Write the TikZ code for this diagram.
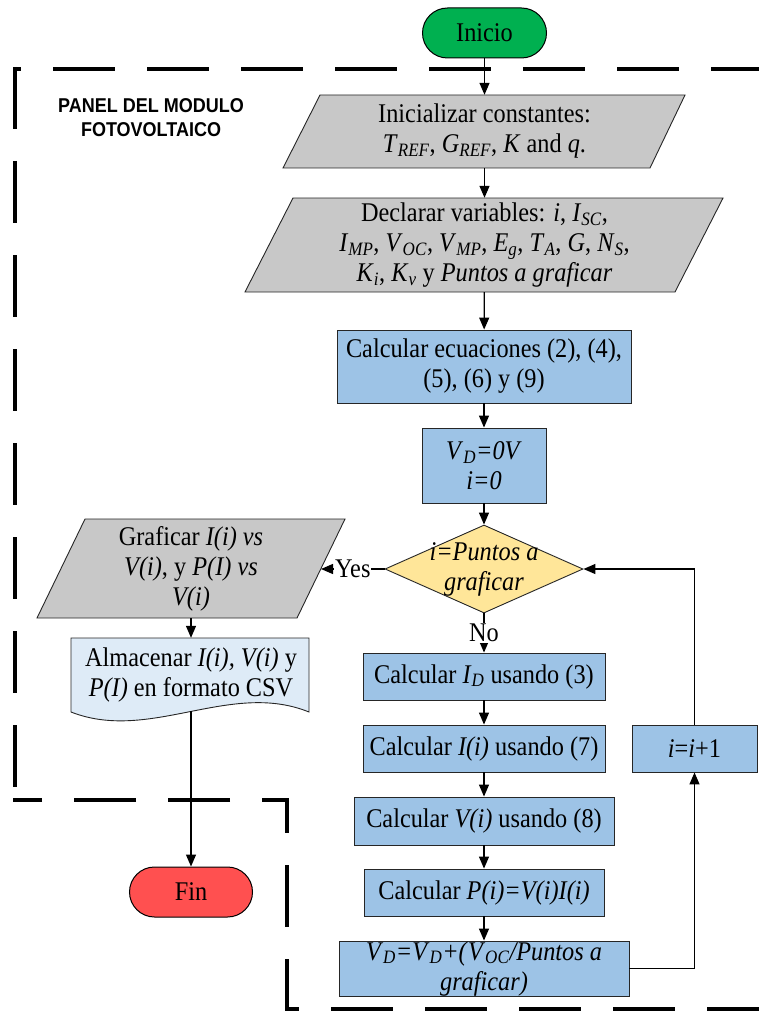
\documentclass[tikz,border=0pt]{standalone}
\usepackage{fontspec}
\setmainfont{Liberation Serif}[FakeStretch=0.9]
\newfontfamily\panelfont{Liberation Sans}[FakeStretch=0.9]
\usetikzlibrary{arrows.meta,shapes.geometric}
\definecolor{cgreen}{HTML}{00B050}
\definecolor{cred}{HTML}{FF5050}
\definecolor{cgray}{HTML}{C8C8C8}
\definecolor{cblue}{HTML}{9DC3E6}
\definecolor{clight}{HTML}{DEEBF7}
\definecolor{cyellow}{HTML}{FFE699}
\newcommand\vs[2]{\textit{#1}\textsubscript{\textit{#2}}}
\begin{document}
\begin{tikzpicture}[x=1pt,y=-1pt,
  every node/.style={font=\fontsize{27}{30}\selectfont},
  term/.style={draw=black, line width=1pt, rounded corners=25pt, minimum height=50pt, minimum width=124pt, inner sep=0pt},
  proc/.style={draw=black!85, line width=0.9pt, fill=cblue, align=center, inner sep=0pt},
  txt/.style={align=center, inner sep=0pt},
  shp/.style={draw=black!85, line width=0.9pt},
  arr/.style={line width=1.3pt, -{Triangle[length=12pt,width=10pt]}},
  lin/.style={line width=1.3pt},
  panel/.style={line width=4pt, dash pattern=on 62pt off 32pt}]
\useasboundingbox (0,0) rectangle (759,1011);

% panel border
\draw[panel, dash phase=54pt] (13,69) -- (759,69);
\draw[panel] (15,67) -- (15,800);
\draw[panel, dash phase=35pt] (289,800) -- (13,800);
\draw[panel, dash phase=27pt] (287,798) -- (287,1009) -- (759,1009);
\node[txt, font=\panelfont\bfseries\fontsize{20}{24}\selectfont] (lbl) at (151,118) {PANEL DEL MODULO\\FOTOVOLTAICO};

% terminals
\node[term, fill=cgreen] (ini) at (484.5,33) {Inicio};
\node[term, fill=cred, minimum width=123pt] (fin) at (191,892) {Fin};

% parallelogram 1
\path[shp, fill=cgray] (283,168) -- (650,168) -- (685,95) -- (320,95) -- cycle;
\node[txt, minimum height=73pt] (p1) at (484.5,131.5) {Inicializar constantes:\\\vs{T}{REF}, \vs{G}{REF}, \textit{K} and \textit{q}.};

% parallelogram 2
\path[shp, fill=cgray] (245,292) -- (675,292) -- (723,198) -- (293,198) -- cycle;
\node[txt, minimum height=94pt] (p2) at (484.5,245) {Declarar variables: \textit{i}, \vs{I}{SC},\\\vs{I}{MP}, \vs{V}{OC}, \vs{V}{MP}, \vs{E}{g}, \vs{T}{A}, \textit{G}, \vs{N}{S},\\\vs{K}{i}, \vs{K}{v} y \textit{Puntos a graficar}};

% process boxes
\node[proc, minimum width=294pt, minimum height=73pt] (ce) at (484,366.5) {Calcular ecuaciones (2), (4),\\(5), (6) y (9)};
\node[proc, minimum width=124pt, minimum height=75pt] (v0) at (484,465.5) {\vs{V}{D}\textit{=0V}\\\textit{i=0}};

% decision
\node[draw=black!85, line width=0.9pt, fill=cyellow, diamond, inner sep=0pt, minimum width=198pt, minimum height=88pt,
  label={[txt]center:\textit{i=Puntos a}\\\textit{graficar}}] (d) at (484,569) {};

% left branch
\path[shp, fill=cgray] (37,618) -- (297,618) -- (345,519) -- (85,519) -- cycle;
\node[txt, minimum height=99pt] (gr) at (191,568.5) {Graficar \textit{I(i) vs}\\\textit{V(i)}, y \textit{P(I) vs}\\\textit{V(i)}};
\coordinate (gre) at (321,569);
\path[shp, fill=clight] (71,712) -- (71,638) -- (309,638) -- (309,712) .. controls (230,680) and (150,743) .. (71,712) -- cycle;
\node[txt, minimum height=74pt] (alm) at (191,675) {Almacenar \textit{I(i), V(i)} y\\\textit{P(I)} en formato CSV};
\coordinate (almb) at (191,711);

% right column
\node[proc, minimum width=242pt, minimum height=47pt] (id) at (484,676.5) {Calcular \vs{I}{D} usando (3)};
\node[proc, minimum width=242pt, minimum height=47pt] (ii) at (484,748.5) {Calcular \textit{I(i)} usando (7)};
\node[proc, minimum width=260pt, minimum height=48pt] (vi) at (484,821) {Calcular \textit{V(i)} usando (8)};
\node[proc, minimum width=240pt, minimum height=47pt] (pi) at (484,892.5) {Calcular \textit{P(i)=V(i)I(i)}};
\node[proc, minimum width=290pt, minimum height=55pt] (vd) at (484,968.5) {\vs{V}{D}\textit{=}\vs{V}{D}\textit{+(}\vs{V}{OC}\textit{/Puntos a}\\\textit{graficar)}};
\node[proc, minimum width=125pt, minimum height=47pt] (inc) at (694.5,748.5) {\textit{i}=\textit{i}+1};

% connectors
\draw[arr] (ini) -- (p1);
\draw[arr] (p1) -- (p2);
\draw[arr] (p2) -- (ce);
\draw[arr] (ce) -- (v0);
\draw[arr] (v0) -- (d);
\draw[arr] (d.west) -- node[fill=white, inner sep=1pt] {Yes} (gre);
\draw[arr] (d.south) -- node[fill=white, inner sep=1pt] {No} (id.north);
\draw[arr] (id) -- (ii);
\draw[arr] (ii) -- (vi);
\draw[arr] (vi) -- (pi);
\draw[arr] (pi) -- (vd);
\draw[arr] (vd.east) -| (inc.south);
\draw[arr] (inc.north) |- (d.east);
\draw[arr] (gr.south) -- (alm.north);
\draw[arr] (almb) -- (fin.north);
\end{tikzpicture}
\end{document}
